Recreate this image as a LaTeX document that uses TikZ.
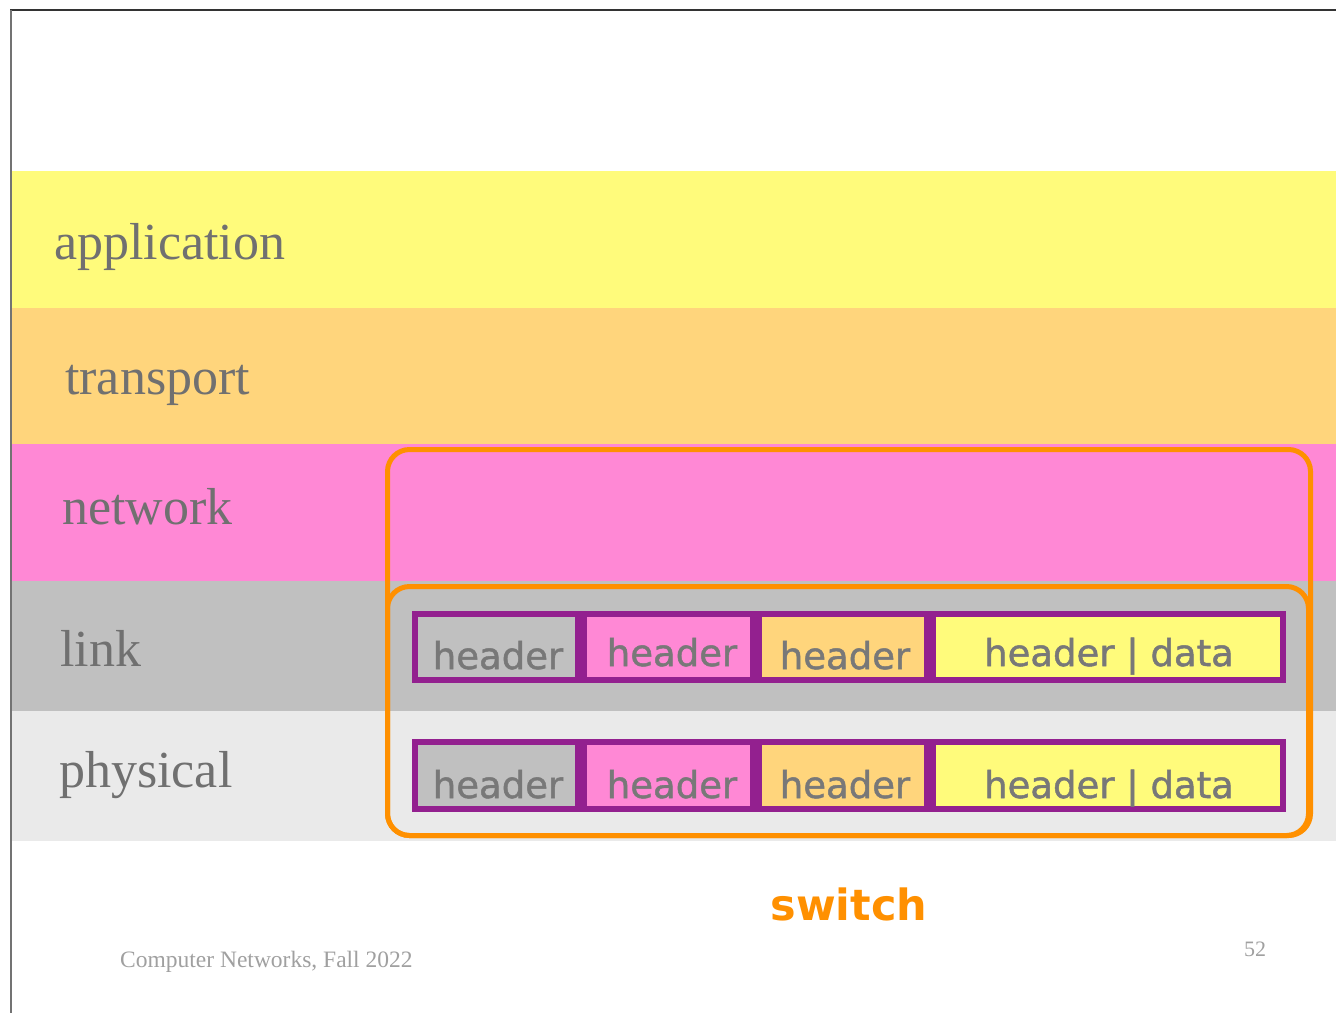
\documentclass[tikz,border=0pt]{standalone}
\usepackage{fontspec}
\setmainfont{Liberation Serif}
\newfontfamily\hdrfont[FakeBold=1.3]{DejaVu Sans}
\newfontfamily\swfont{DejaVu Sans}
\definecolor{appY}{HTML}{FFFB7B}
\definecolor{trnO}{HTML}{FFD57C}
\definecolor{netP}{HTML}{FF88D5}
\definecolor{lnkG}{HTML}{C0C0C0}
\definecolor{phyG}{HTML}{EAEAEA}
\definecolor{swO}{HTML}{FF9000}
\definecolor{pktP}{HTML}{93208F}
\definecolor{lblG}{HTML}{707070}
\definecolor{hdrG}{HTML}{787878}
\definecolor{ftrG}{HTML}{A0A0A0}
\tikzset{
  layerlbl/.style={anchor=base west, inner sep=0pt, text=lblG, font=\fontsize{52}{60}\selectfont},
  cell/.style={draw=pktP, line width=6pt, inner sep=0pt, minimum height=#1},
  hdrtxt/.style={anchor=base, inner sep=0pt, text=hdrG, font=\hdrfont\fontsize{37}{40}\selectfont},
  swbox/.style={draw=swO, line width=5pt, rounded corners=22pt},
}
\begin{document}
\begin{tikzpicture}[x=1pt,y=-1pt]
\useasboundingbox (0,0) rectangle (1336,1013);
\fill[white] (0,0) rectangle (1336,1013);
% layer bands
\fill[appY] (12,171) rectangle (1336,308);
\fill[trnO] (12,308) rectangle (1336,444);
\fill[netP] (12,444) rectangle (1336,581);
\fill[lnkG] (12,581) rectangle (1336,711);
\fill[phyG] (12,711) rectangle (1336,841);
% frame lines
\draw[line width=1.5pt, black!80] (10,10) -- (1336,10);
\draw[line width=1.5pt, black!55] (11,10) -- (11,1013);
% layer labels
\node[layerlbl] (lapp) at (54,259) {application};
\node[layerlbl] (ltrn) at (65,394) {transport};
\node[layerlbl] (lnet) at (62,524) {network};
\node[layerlbl] (llnk) at (60,666) {link};
\node[layerlbl] (lphy) at (59,787) {physical};
% switch boxes
\draw[swbox] (387.5,449.5) rectangle (1310.5,835.5);
\draw[swbox] (387.5,586.5) rectangle (1308.5,835.5);
% row 1 cells
\node[cell=66pt, fill=lnkG, minimum width=163pt] (a1) at (496.5,647) {};
\node[cell=66pt, fill=netP, minimum width=169pt] (a2) at (668.5,647) {};
\node[cell=66pt, fill=trnO, minimum width=168pt] (a3) at (843,647) {};
\node[cell=66pt, fill=appY, minimum width=350pt] (a4) at (1108,647) {};
\node[hdrtxt] (ta1) at (498,669) {header};
\node[hdrtxt] (ta2) at (672,666) {header};
\node[hdrtxt] (ta3) at (845,669) {header};
\node[hdrtxt] (ta4) at (1109,666) {header | data};
% row 2 cells
\node[cell=67pt, fill=lnkG, minimum width=163pt] (b1) at (496.5,775.5) {};
\node[cell=67pt, fill=netP, minimum width=169pt] (b2) at (668.5,775.5) {};
\node[cell=67pt, fill=trnO, minimum width=168pt] (b3) at (843,775.5) {};
\node[cell=67pt, fill=appY, minimum width=350pt] (b4) at (1108,775.5) {};
\node[hdrtxt] (tb1) at (498,798) {header};
\node[hdrtxt] (tb2) at (672,798) {header};
\node[hdrtxt] (tb3) at (845,798) {header};
\node[hdrtxt] (tb4) at (1109,798) {header | data};
% switch label
\node[anchor=base, inner sep=0pt, text=swO, font=\swfont\bfseries\fontsize{43}{48}\selectfont] (sw) at (849,920) {switch};
% footer
\node[anchor=base west, inner sep=0pt, text=ftrG, font=\fontsize{23.5}{28}\selectfont] (ftr) at (120,967) {Computer Networks, Fall 2022};
\node[anchor=base west, inner sep=0pt, text=ftrG, font=\fontsize{22}{26}\selectfont] (pg) at (1244,956) {52};
\end{tikzpicture}
\end{document}
